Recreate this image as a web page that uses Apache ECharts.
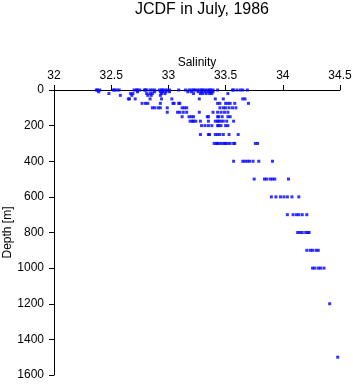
<!DOCTYPE html>
<html>
<head>
<meta charset="utf-8">
<script src="https://cdn.jsdelivr.net/npm/echarts@6/dist/echarts.min.js"></script>
<style>
  html, body { margin: 0; padding: 0; background: #fff; }
  #chart { width: 353px; height: 384px; }
</style>
</head>
<body>
<div id="chart"></div>
<script>
// 深度层 (m) 与各层盐度观测值
const depthLevels = [0, 10, 20, 30, 50, 75, 100, 125, 150, 175, 200, 250, 300, 400, 500, 600, 700, 800, 900, 1000, 1200, 1500];

const sal0 = [32.37, 32.38, 32.40, 32.52, 32.53, 32.55, 32.57, 32.70, 32.72, 32.73, 32.75, 32.79, 32.80, 32.81, 32.84, 32.86, 32.88, 32.92, 32.94, 32.95, 32.97, 32.99, 33.01, 33.09, 33.15, 33.18, 33.20, 33.22, 33.23, 33.25, 33.27, 33.29, 33.30, 33.32, 33.34, 33.36, 33.37, 33.39, 33.43, 33.56, 33.57, 33.60, 33.63, 33.65, 33.69];
const sal10 = [32.39, 32.73, 32.88, 32.93, 32.95, 32.98, 33.01, 33.17, 33.20, 33.26, 33.29, 33.32, 33.35, 33.37, 33.39];
const sal20 = [32.48, 32.67, 32.69, 32.81, 32.84, 32.86, 32.94, 32.97, 33.22, 33.28, 33.30, 33.33, 33.36, 33.38, 33.52];
const sal30 = [32.58, 32.68, 32.82, 32.85, 32.93];
const sal50 = [32.65, 32.66, 32.71, 32.84, 32.94, 33.03, 33.27, 33.41, 33.48, 33.65, 33.67];
const sal75 = [32.77, 32.80, 32.82, 32.93, 33.04, 33.05, 33.09, 33.10, 33.43, 33.45, 33.50, 33.52, 33.54, 33.58, 33.70];
const sal100 = [32.86, 32.88, 32.91, 32.93, 32.99, 33.12, 33.14, 33.16, 33.45, 33.48, 33.50, 33.53, 33.56, 33.59];
const sal125 = [32.99, 33.08, 33.10, 33.13, 33.16, 33.27, 33.39, 33.43, 33.46, 33.49, 33.52];
const sal150 = [33.12, 33.18, 33.20, 33.22, 33.34, 33.35, 33.43, 33.44, 33.47, 33.52, 33.54];
const sal175 = [33.19, 33.21, 33.22, 33.24, 33.28, 33.35, 33.41, 33.43, 33.44, 33.46, 33.48, 33.51, 33.57];
const sal200 = [33.29, 33.32, 33.35, 33.38, 33.43, 33.44, 33.46, 33.50, 33.52];
const sal250 = [33.28, 33.35, 33.36, 33.41, 33.43, 33.45, 33.48, 33.53, 33.61];
const sal300 = [33.40, 33.42, 33.43, 33.45, 33.47, 33.49, 33.50, 33.52, 33.54, 33.57, 33.58, 33.76, 33.78];
const sal400 = [33.57, 33.65, 33.67, 33.69, 33.71, 33.74, 33.79, 33.91];
const sal500 = [33.75, 33.84, 33.86, 33.89, 33.91, 33.93, 34.05];
const sal600 = [33.90, 33.94, 33.98, 34.01, 34.04, 34.08, 34.14];
const sal700 = [34.04, 34.09, 34.12, 34.14, 34.17, 34.21];
const sal800 = [34.13, 34.15, 34.17, 34.20, 34.22, 34.23];
const sal900 = [34.21, 34.24, 34.26, 34.29, 34.31];
const sal1000 = [34.26, 34.28, 34.31, 34.33, 34.36];
const sal1200 = [34.41];
const sal1500 = [34.48];

const salinityByLevel = [sal0, sal10, sal20, sal30, sal50, sal75, sal100, sal125, sal150, sal175, sal200, sal250, sal300, sal400, sal500, sal600, sal700, sal800, sal900, sal1000, sal1200, sal1500];

// 组装散点 [盐度, 深度]
const points = [];
depthLevels.forEach((d, i) => {
  salinityByLevel[i].forEach((s) => points.push([s, d]));
});

const font = "Liberation Sans, Arial, Helvetica, sans-serif";

const chart = echarts.init(document.getElementById("chart"));
chart.setOption({
  animation: false,
  backgroundColor: "#fff",
  title: {
    text: "JCDF in July, 1986",
    left: 197,
    top: -3,
    textAlign: "center",
    textStyle: { color: "#000", fontSize: 16, fontWeight: "normal", fontFamily: font },
  },
  grid: { left: 54, right: 13, top: 90, bottom: 9, outerBoundsMode: "none", containLabel: false },
  xAxis: {
    type: "value",
    position: "top",
    min: 32,
    max: 34.5,
    interval: 0.5,
    name: "Salinity",
    nameLocation: "middle",
    nameGap: 21,
    nameMoveOverlap: false,
    nameTextStyle: { color: "#000", fontSize: 12, fontFamily: font },
    axisLine: { lineStyle: { color: "#000", width: 1 } },
    axisTick: { length: 5, lineStyle: { color: "#000" } },
    axisLabel: { color: "#000", fontSize: 12, fontFamily: font, margin: 8 },
    splitLine: { show: false },
  },
  yAxis: {
    type: "value",
    inverse: true,
    min: 0,
    max: 1600,
    interval: 200,
    name: "Depth [m]",
    nameLocation: "middle",
    nameGap: 40,
    nameMoveOverlap: false,
    nameTextStyle: { color: "#000", fontSize: 12, fontFamily: font },
    axisLine: { show: true, lineStyle: { color: "#000", width: 1 } },
    axisTick: { show: true, length: 5, lineStyle: { color: "#000" } },
    axisLabel: { color: "#000", fontSize: 12, fontFamily: font, margin: 10, formatter: (v) => String(v) },
    splitLine: { show: false },
  },
  series: [
    {
      type: "scatter",
      data: points,
      symbol: "rect",
      symbolSize: 3,
      itemStyle: { color: "#0000ff" },
    },
  ],
});
</script>
</body>
</html>
